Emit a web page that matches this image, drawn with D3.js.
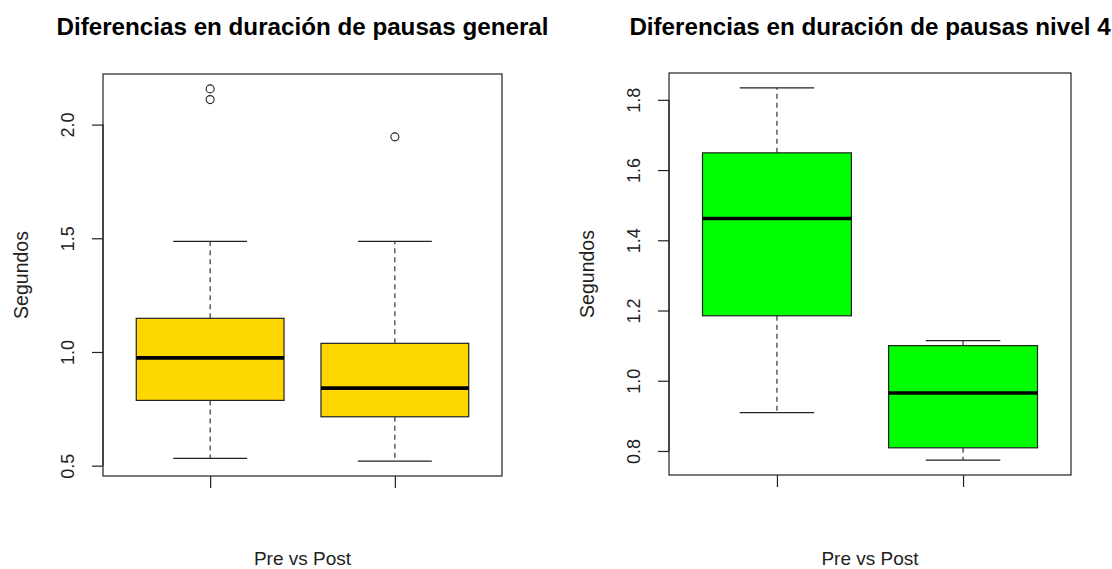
<!DOCTYPE html>
<html>
<head>
<meta charset="utf-8">
<script src="https://cdn.jsdelivr.net/npm/d3@7"></script>
<style>
  html, body { margin: 0; padding: 0; background: #fff; }
  svg { display: block; font-family: "Liberation Sans", Arial, sans-serif; }
</style>
</head>
<body>
<svg id="chart" width="1112" height="569"></svg>
<script>
// Groups compared in each panel
const categories = ["Pre", "Post"];

// Panel 1: pause duration differences, all levels (seconds)
const generalLower   = [0.532, 0.520];
const generalQ1      = [0.787, 0.715];
const generalMedian  = [0.974, 0.841];
const generalQ3      = [1.148, 1.038];
const generalUpper   = [1.486, 1.486];
const generalOutliers = [[2.110, 2.157], [1.946]];
const generalTicks   = [0.5, 1.0, 1.5, 2.0];

// Panel 2: pause duration differences, level 4 (seconds)
const nivel4Lower    = [0.909, 0.774];
const nivel4Q1       = [1.185, 0.809];
const nivel4Median   = [1.462, 0.965];
const nivel4Q3       = [1.649, 1.100];
const nivel4Upper    = [1.834, 1.114];
const nivel4Outliers = [[], []];
const nivel4Ticks    = [0.8, 1.0, 1.2, 1.4, 1.6, 1.8];

const svg = d3.select("#chart");

function drawPanel(opts) {
  const { left, right, top, bottom, title, fill, lower, q1, median, q3, upper, outliers, ticks } = opts;
  const g = svg.append("g");

  // y extent covers every value, padded by 4% on each side
  const all = lower.concat(upper, outliers.flat());
  const lo = d3.min(all), hi = d3.max(all), pad = (hi - lo) * 0.04;
  const y = d3.scaleLinear().domain([lo - pad, hi + pad]).range([bottom, top]);
  const x = d3.scalePoint().domain(categories).range([left, right]).padding(0.58);
  const step = x.step();
  const boxHalf = step * 0.4, capHalf = step * 0.2;

  const rows = categories.map((c, i) => ({
    c, lower: lower[i], q1: q1[i], median: median[i], q3: q3[i], upper: upper[i], out: outliers[i]
  }));

  const box = g.selectAll("g.box").data(rows).join("g").attr("class", "box");

  // dashed whiskers
  box.append("line")
    .attr("x1", d => x(d.c)).attr("x2", d => x(d.c))
    .attr("y1", d => y(d.q3)).attr("y2", d => y(d.upper))
    .attr("stroke", "#222").attr("stroke-width", 1.1).attr("stroke-dasharray", "5,4");
  box.append("line")
    .attr("x1", d => x(d.c)).attr("x2", d => x(d.c))
    .attr("y1", d => y(d.q1)).attr("y2", d => y(d.lower))
    .attr("stroke", "#222").attr("stroke-width", 1.1).attr("stroke-dasharray", "5,4");
  // staples
  ["upper", "lower"].forEach(k => {
    box.append("line")
      .attr("x1", d => x(d.c) - capHalf).attr("x2", d => x(d.c) + capHalf)
      .attr("y1", d => y(d[k])).attr("y2", d => y(d[k]))
      .attr("stroke", "#222").attr("stroke-width", 1.2);
  });
  // boxes
  box.append("rect")
    .attr("x", d => x(d.c) - boxHalf).attr("width", boxHalf * 2)
    .attr("y", d => y(d.q3)).attr("height", d => y(d.q1) - y(d.q3))
    .attr("fill", fill).attr("stroke", "#222").attr("stroke-width", 1.2);
  // medians
  box.append("line")
    .attr("x1", d => x(d.c) - boxHalf).attr("x2", d => x(d.c) + boxHalf)
    .attr("y1", d => y(d.median)).attr("y2", d => y(d.median))
    .attr("stroke", "#000").attr("stroke-width", 3.6);
  // outliers
  box.selectAll("circle").data(d => d.out.map(v => ({ c: d.c, v }))).join("circle")
    .attr("cx", d => x(d.c)).attr("cy", d => y(d.v)).attr("r", 4)
    .attr("fill", "none").attr("stroke", "#222").attr("stroke-width", 1.1);

  // plot frame
  g.append("rect")
    .attr("x", left).attr("y", top).attr("width", right - left).attr("height", bottom - top)
    .attr("fill", "none").attr("stroke", "#222").attr("stroke-width", 1.2);

  // y axis: ticks only, labels drawn rotated
  const yAxis = g.append("g").attr("transform", `translate(${left},0)`)
    .call(d3.axisLeft(y).tickValues(ticks).tickSize(11).tickFormat(d3.format(".1f")));
  yAxis.select(".domain")
    .attr("d", `M0,${y(ticks[0])}V${y(ticks[ticks.length - 1])}`)
    .attr("stroke", "#222").attr("stroke-width", 1.2);
  yAxis.selectAll(".tick line").attr("stroke", "#222").attr("stroke-width", 1.2);
  yAxis.selectAll(".tick text")
    .attr("x", null).attr("dy", null)
    .attr("transform", "translate(-29,0) rotate(-90)")
    .attr("text-anchor", "middle")
    .attr("font-size", 18).attr("font-family", "Liberation Sans, Arial, sans-serif")
    .attr("fill", "#222");

  // x axis: tick marks without labels
  const xAxis = g.append("g").attr("transform", `translate(0,${bottom})`)
    .call(d3.axisBottom(x).tickSize(12).tickFormat(""));
  xAxis.select(".domain").remove();
  xAxis.selectAll(".tick line").attr("stroke", "#222").attr("stroke-width", 1.2);

  // titles
  const cx = (left + right) / 2;
  g.append("text").attr("x", cx).attr("y", 35).attr("text-anchor", "middle")
    .attr("font-size", 24.2).attr("font-weight", "bold").attr("fill", "#000").text(title);
  g.append("text").attr("x", cx).attr("y", 565).attr("text-anchor", "middle")
    .attr("font-size", 19).attr("fill", "#222").text("Pre vs Post");
  g.append("text")
    .attr("transform", `translate(${left - 75},${(top + bottom) / 2}) rotate(-90)`)
    .attr("text-anchor", "middle").attr("font-size", 19.5).attr("fill", "#222").text("Segundos");
}

drawPanel({
  left: 103, right: 502, top: 74, bottom: 476,
  title: "Diferencias en duración de pausas general", fill: "#FFD700",
  lower: generalLower, q1: generalQ1, median: generalMedian, q3: generalQ3, upper: generalUpper,
  outliers: generalOutliers, ticks: generalTicks
});

drawPanel({
  left: 669, right: 1071, top: 73, bottom: 475,
  title: "Diferencias en duración de pausas nivel 4", fill: "#00FF00",
  lower: nivel4Lower, q1: nivel4Q1, median: nivel4Median, q3: nivel4Q3, upper: nivel4Upper,
  outliers: nivel4Outliers, ticks: nivel4Ticks
});
</script>
</body>
</html>
